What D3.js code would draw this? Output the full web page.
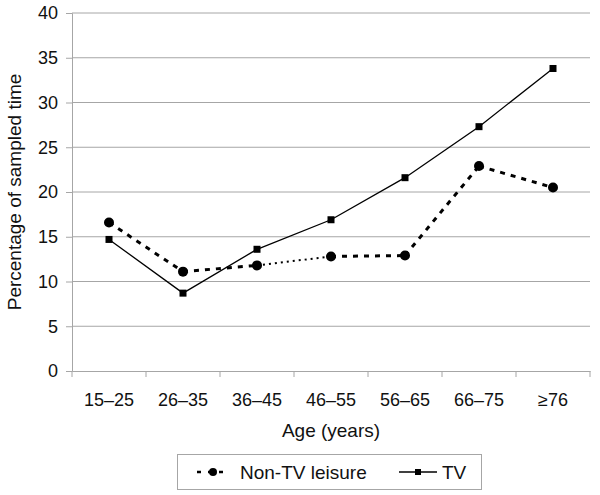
<!DOCTYPE html>
<html>
<head>
<meta charset="utf-8">
<script src="https://cdn.jsdelivr.net/npm/d3@7"></script>
<style>
  body { margin: 0; background: #fff; }
  text { font-family: "Liberation Sans", Arial, sans-serif; fill: #111; }
</style>
</head>
<body>
<div class="vis-linechart"></div>
<script>
const categories = ["15–25", "26–35", "36–45", "46–55", "56–65", "66–75", "≥76"];
const nonTV = [16.6, 11.1, 11.8, 12.8, 12.9, 22.9, 20.5];
const tv = [14.7, 8.7, 13.6, 16.9, 21.6, 27.3, 33.8];
const yTicks = [0, 5, 10, 15, 20, 25, 30, 35, 40];
// dotted look for one segment of the non-TV line, dashed elsewhere
const nonTVSegStyle = ["dash", "dash", "dot", "dash", "dash", "dash"];

const W = 600, H = 495;
const margin = { top: 13, right: 10, bottom: 124, left: 72 };
const width = W - margin.left - margin.right;
const height = H - margin.top - margin.bottom;

const svg = d3.select(".vis-linechart")
  .append("svg")
  .attr("width", W)
  .attr("height", H);

const g = svg.append("g")
  .attr("transform", "translate(" + margin.left + "," + margin.top + ")");

const x = d3.scaleBand().domain(categories).range([0, width]);
const y = d3.scaleLinear().domain([0, 40]).range([height, 0]);
const cx = d => x(d) + x.bandwidth() / 2;

// gridlines
g.selectAll(".grid")
  .data(yTicks.filter(t => t > 0))
  .enter().append("line")
  .attr("x1", 0).attr("x2", width)
  .attr("y1", d => y(d)).attr("y2", d => y(d))
  .attr("stroke", "#a6a6a6").attr("stroke-width", 1);

// y axis
const yAxis = g.append("g")
  .call(d3.axisLeft(y).tickValues(yTicks).tickSize(6).tickPadding(8));
yAxis.select(".domain").attr("stroke", "#a6a6a6");
yAxis.selectAll(".tick line").attr("stroke", "#a6a6a6");
yAxis.selectAll("text").style("font-size", "18px").attr("fill", "#111");

// x axis, ticks at band edges
const xAxis = g.append("g")
  .attr("transform", "translate(0," + height + ")")
  .call(d3.axisBottom(x).tickSize(0).tickPadding(22));
xAxis.select(".domain").attr("stroke", "#a6a6a6");
xAxis.selectAll("text").style("font-size", "18px").attr("fill", "#111");
g.append("g")
  .selectAll("line")
  .data(categories.concat(["end"]))
  .enter().append("line")
  .attr("x1", (d, i) => i * x.step()).attr("x2", (d, i) => i * x.step())
  .attr("y1", height).attr("y2", height + 6)
  .attr("stroke", "#a6a6a6");

// non-TV segments
const segs = nonTV.slice(1).map((v, i) => ({
  a: [cx(categories[i]), y(nonTV[i])],
  b: [cx(categories[i + 1]), y(v)],
  style: nonTVSegStyle[i]
}));
g.selectAll(".seg")
  .data(segs)
  .enter().append("line")
  .attr("x1", d => d.a[0]).attr("y1", d => d.a[1])
  .attr("x2", d => d.b[0]).attr("y2", d => d.b[1])
  .attr("stroke", "#000")
  .attr("stroke-width", d => d.style === "dot" ? 2 : 3)
  .attr("stroke-dasharray", d => d.style === "dot" ? "2,4" : "5,6");

// TV line
g.append("path")
  .datum(tv)
  .attr("fill", "none")
  .attr("stroke", "#000")
  .attr("stroke-width", 1.3)
  .attr("d", d3.line().x((d, i) => cx(categories[i])).y(d => y(d)));

g.selectAll(".dot")
  .data(nonTV)
  .enter().append("circle")
  .attr("cx", (d, i) => cx(categories[i]))
  .attr("cy", d => y(d))
  .attr("r", 5)
  .attr("fill", "#000");

g.selectAll(".sq")
  .data(tv)
  .enter().append("rect")
  .attr("x", (d, i) => cx(categories[i]) - 3.5)
  .attr("y", d => y(d) - 3.5)
  .attr("width", 7).attr("height", 7)
  .attr("fill", "#000");

// axis titles
svg.append("text")
  .attr("transform", "translate(21," + (margin.top + height / 2) + ") rotate(-90)")
  .attr("text-anchor", "middle")
  .style("font-size", "19px")
  .text("Percentage of sampled time");

svg.append("text")
  .attr("x", margin.left + width / 2)
  .attr("y", 437)
  .attr("text-anchor", "middle")
  .style("font-size", "19px")
  .text("Age (years)");

// legend
const leg = svg.append("g");
leg.append("rect")
  .attr("x", 177.5).attr("y", 454.5)
  .attr("width", 304).attr("height", 35)
  .attr("fill", "none").attr("stroke", "#a6a6a6");

leg.append("line")
  .attr("x1", 197).attr("x2", 229).attr("y1", 472).attr("y2", 472)
  .attr("stroke", "#000").attr("stroke-width", 2.5)
  .attr("stroke-dasharray", "4,7");
leg.append("circle").attr("cx", 213).attr("cy", 472).attr("r", 4).attr("fill", "#000");
leg.append("text").attr("x", 240).attr("y", 479).style("font-size", "19px").text("Non-TV leisure");

leg.append("line")
  .attr("x1", 399).attr("x2", 437).attr("y1", 472).attr("y2", 472)
  .attr("stroke", "#000").attr("stroke-width", 1.3);
leg.append("rect").attr("x", 415).attr("y", 469).attr("width", 6).attr("height", 6).attr("fill", "#000");
leg.append("text").attr("x", 442).attr("y", 479).style("font-size", "19px").text("TV");
</script>
</body>
</html>
